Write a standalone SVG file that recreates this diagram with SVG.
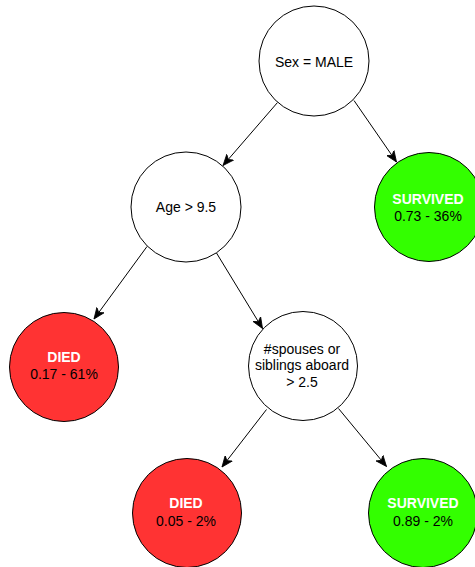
<svg xmlns="http://www.w3.org/2000/svg" width="475" height="567" viewBox="0 0 475 567">
  <style>
    .node { stroke: #000; stroke-width: 1; }
    .split { fill: #fff; }
    .died { fill: #ff3333; }
    .survived { fill: #33ff00; }
    text { font-family: "Liberation Sans", Arial, Helvetica, sans-serif; font-size: 14px; text-anchor: middle; fill: #000; }
    .title { font-weight: bold; fill: #fff; }
    .edge { stroke: #000; stroke-width: 1; fill: none; marker-end: url(#arrow); }
  </style>
  <defs>
    <marker id="arrow" markerUnits="userSpaceOnUse" viewBox="0 0 12 10" refX="11" refY="5" markerWidth="12" markerHeight="10" orient="auto">
      <path d="M0,0.5 L11,5 L0,9.5 L3,5 Z" fill="#000" stroke="#000" stroke-width="0.8" stroke-linejoin="miter"/>
    </marker>
  </defs>

  <!-- connectors -->
  <g id="edges">
    <line class="edge" x1="277.5" y1="102.5" x2="223" y2="165.5"/>
    <line class="edge" x1="354" y1="100.5" x2="396.5" y2="162"/>
    <line class="edge" x1="147" y1="246.5" x2="94" y2="319"/>
    <line class="edge" x1="216.5" y1="253" x2="262.5" y2="328.5"/>
    <line class="edge" x1="266.5" y1="409.5" x2="222" y2="467"/>
    <line class="edge" x1="338.5" y1="408.5" x2="386.5" y2="466.5"/>
  </g>

  <!-- decision: sex -->
  <g id="node-sex">
    <circle class="node split" cx="314" cy="61" r="55"/>
    <text x="314" y="66.5">Sex = MALE</text>
  </g>

  <!-- decision: age -->
  <g id="node-age">
    <circle class="node split" cx="186" cy="207" r="55"/>
    <text x="186" y="212">Age &gt; 9.5</text>
  </g>

  <!-- leaf: female survived -->
  <g id="leaf-survived-1">
    <circle class="node survived" cx="429" cy="207" r="54.5"/>
    <text class="title" x="428" y="204">SURVIVED</text>
    <text x="428" y="221">0.73 - 36%</text>
  </g>

  <!-- leaf: adult male died -->
  <g id="leaf-died-1">
    <circle class="node died" cx="64" cy="367" r="54.5"/>
    <text class="title" x="64" y="362">DIED</text>
    <text x="64" y="379">0.17 - 61%</text>
  </g>

  <!-- decision: family aboard -->
  <g id="node-sibsp">
    <circle class="node split" cx="303" cy="366" r="54.5"/>
    <text x="302" y="353.5">#spouses or</text>
    <text x="302" y="370.3">siblings aboard</text>
    <text x="302" y="387.1">&gt; 2.5</text>
  </g>

  <!-- leaf: boy with large family died -->
  <g id="leaf-died-2">
    <circle class="node died" cx="187" cy="513" r="54.5"/>
    <text class="title" x="186" y="508">DIED</text>
    <text x="186" y="525.5">0.05 - 2%</text>
  </g>

  <!-- leaf: boy with small family survived -->
  <g id="leaf-survived-2">
    <circle class="node survived" cx="423" cy="513" r="54.5"/>
    <text class="title" x="423" y="507.5">SURVIVED</text>
    <text x="423" y="525.5">0.89 - 2%</text>
  </g>
</svg>
